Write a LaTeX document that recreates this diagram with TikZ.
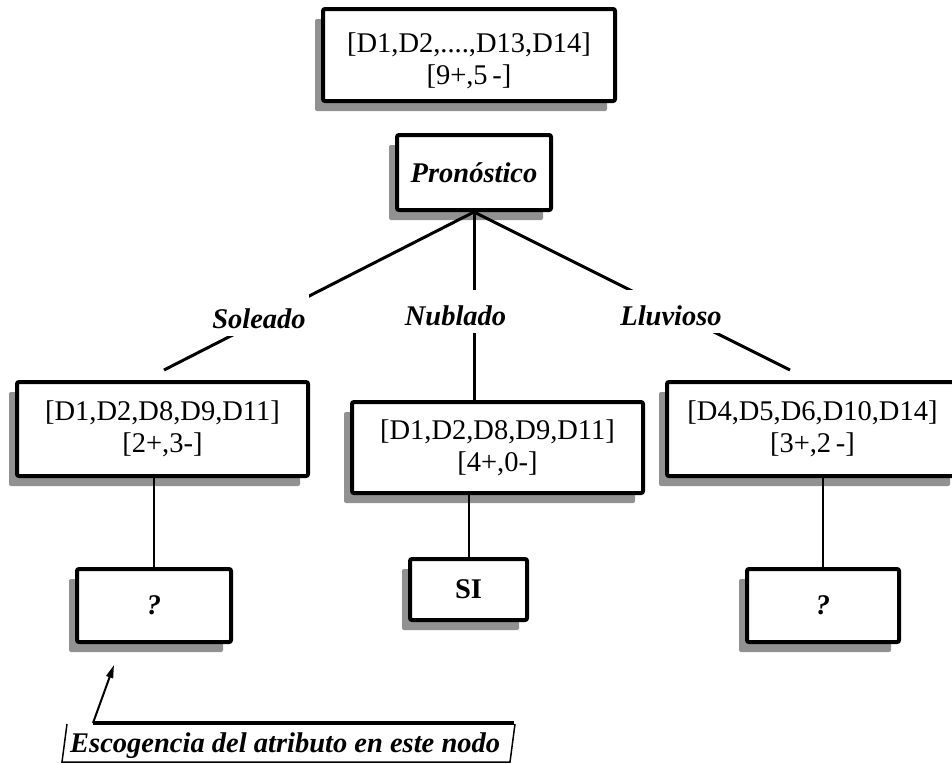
\documentclass[tikz,border=0pt]{standalone}
\usepackage{fontspec}
\setmainfont{Liberation Serif}
\usetikzlibrary{shadows,arrows.meta}
\definecolor{shadowgray}{RGB}{145,145,145}
\newcommand{\bfit}{\fontsize{28.5}{32}\selectfont\bfseries\itshape}
\newcommand{\plain}{\fontsize{28.5}{32}\selectfont}
\begin{document}
\begin{tikzpicture}[x=1pt,y=-1pt,
  box/.style={draw, line width=4pt, rounded corners=2pt, fill=white, align=center,
    font=\plain, inner sep=0pt,
    drop shadow={shadow xshift=-8pt, shadow yshift=-10pt, fill=shadowgray, opacity=1}},
  branch/.style={line width=3pt},
  stem/.style={line width=2pt},
  lab/.style={font=\bfit, fill=white, inner xsep=3pt, inner ysep=5pt,
    text height=30pt, text depth=3pt, anchor=base},
  pointer/.style={line width=2pt, -{Triangle[length=13pt,width=7pt]}},
  rim/.style={line width=1.5pt}]
\useasboundingbox (0,0) rectangle (952,763);
\clip (0,0) rectangle (952,763);

% tree nodes
\node[box, minimum width=292pt, minimum height=92pt] (root) at (469,55)
  {\rule{0pt}{32pt}[D1,D2,....,D13,D14]\\{}[9+,5\,-]};
\node[box, minimum width=154pt, minimum height=75pt, font=\bfit] (pron) at (474,172.5)
  {Pronóstico};
\node[box, minimum width=291pt, minimum height=94pt] (left) at (162.5,429)
  {[D1,D2,D8,D9,D11]\\{}[2+,3-]};
\node[box, minimum width=291pt, minimum height=91pt] (mid) at (497.5,447.5)
  {[D1,D2,D8,D9,D11]\\{}[4+,0-]};
\node[box, minimum width=291pt, minimum height=94pt] (right) at (812.5,429)
  {[D4,D5,D6,D10,D14]\\{}[3+,2\,-]};
\node[box, minimum width=154pt, minimum height=73pt, font=\bfit] (qL) at (154,605.5) {?};
\node[box, minimum width=117pt, minimum height=61pt, font=\plain\bfseries] (si) at (468.5,589.5) {SI};
\node[box, minimum width=152pt, minimum height=73pt, font=\bfit] (qR) at (823,605.5) {?};

% branches of the attribute
\coordinate (sEnd) at (164,370);
\coordinate (lEnd) at (790,370);
\draw[branch] (pron.south) -- (sEnd);
\draw[branch] (pron.south) -- (pron.south |- mid.north);
\draw[branch] (pron.south) -- (lEnd);
\node[lab] (soleado) at (259,328) {Soleado};
\node[lab] (nublado) at (455.5,325) {Nublado};
\node[lab] (lluvioso) at (671,325) {Lluvioso};

% stems down to the leaves
\draw[stem] (qL.north) -- (qL.north |- left.south);
\draw[stem] (si.north) -- (si.north |- mid.south);
\draw[stem] (qR.north) -- (qR.north |- right.south);

% annotation
\node[font=\bfit, anchor=base west, inner sep=0pt] (note) at (70,752)
  {Escogencia del atributo en este nodo};
\coordinate (nTL) at (93,723);
\coordinate (nTR) at (514,723);
\coordinate (nLT) at (67,724);
\coordinate (nLB) at (62,762);
\coordinate (nRT) at (515,724);
\coordinate (nRB) at (510,762);
\coordinate (nTip) at (114,665);
\draw[line width=4pt] (nTL) -- (nTR);
\draw[rim] (nLT) -- (nLB) -- (nRB) -- (nRT);
\draw[pointer] (nTL) -- (nTip);
\end{tikzpicture}
\end{document}
